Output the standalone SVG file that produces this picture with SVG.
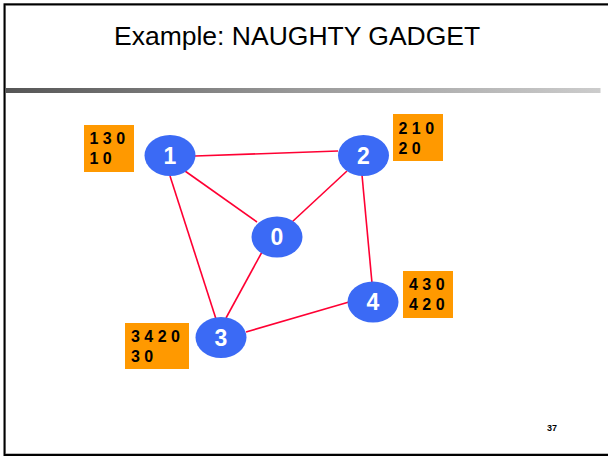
<svg xmlns="http://www.w3.org/2000/svg" width="608" height="457" viewBox="0 0 608 457">
  <defs>
    <linearGradient id="rule" x1="0" y1="0" x2="1" y2="0">
      <stop offset="0" stop-color="#555555"/>
      <stop offset="0.5" stop-color="#9a9a9a"/>
      <stop offset="1" stop-color="#cccccc"/>
    </linearGradient>
    <style>
      .title { font-family: "Liberation Sans", Arial, sans-serif; font-size: 26.5px; fill: #000; }
      .node ellipse { fill: #3b6af5; }
      .node text { font-family: "Liberation Sans", Arial, sans-serif; font-size: 23px; font-weight: bold; fill: #ffffff; text-anchor: middle; }
      .tag rect { fill: #ff9900; }
      .tag text { font-family: "Liberation Sans", Arial, sans-serif; font-size: 16px; font-weight: bold; fill: #000; }
      .edges line { stroke: #ff0033; stroke-width: 1.6; }
      .pageno { font-family: "Liberation Sans", Arial, sans-serif; font-size: 9px; font-weight: bold; fill: #000; }
    </style>
  </defs>

  <!-- slide background and frame -->
  <rect x="0" y="0" width="608" height="457" fill="#ffffff"/>
  <rect x="5.5" y="5.5" width="640" height="448" fill="none" stroke="#bdbdbd" stroke-width="1"/>
  <rect x="4.5" y="4.3" width="640" height="450.7" fill="none" stroke="#000" stroke-width="2"/>

  <!-- title -->
  <text class="title" x="114" y="45">Example: NAUGHTY GADGET</text>
  <rect x="5.5" y="88" width="595" height="5" fill="url(#rule)"/>

  <!-- connectors -->
  <g id="edges" class="edges">
    <line x1="195" y1="156" x2="338" y2="151"/>
    <line x1="185" y1="171" x2="257" y2="222"/>
    <line x1="347" y1="171" x2="292" y2="222"/>
    <line x1="362" y1="175" x2="372" y2="283"/>
    <line x1="262" y1="252" x2="226" y2="318"/>
    <line x1="170" y1="176" x2="216" y2="319"/>
    <line x1="246" y1="332" x2="349" y2="302"/>
  </g>

  <!-- nodes -->
  <g id="node-0" class="node">
    <ellipse cx="277" cy="237" rx="25.5" ry="20.5"/>
    <text x="277" y="245">0</text>
  </g>
  <g id="node-1" class="node">
    <ellipse cx="170" cy="155.5" rx="25.5" ry="20.5"/>
    <text x="170" y="164">1</text>
  </g>
  <g id="node-2" class="node">
    <ellipse cx="363.5" cy="155.5" rx="25.5" ry="20.5"/>
    <text x="363.5" y="164">2</text>
  </g>
  <g id="node-3" class="node">
    <ellipse cx="221" cy="337.5" rx="25.5" ry="20.5"/>
    <text x="221" y="346">3</text>
  </g>
  <g id="node-4" class="node">
    <ellipse cx="373" cy="302" rx="25.5" ry="20.5"/>
    <text x="373" y="310">4</text>
  </g>

  <!-- routing tables beside the nodes -->
  <g id="table-1" class="tag">
    <rect x="84" y="125" width="50" height="47"/>
    <text x="89.5" y="144">1 3 0</text>
    <text x="89.5" y="164">1 0</text>
  </g>
  <g id="table-2" class="tag">
    <rect x="393" y="114" width="50" height="47"/>
    <text x="398.5" y="134">2 1 0</text>
    <text x="398.5" y="154">2 0</text>
  </g>
  <g id="table-3" class="tag">
    <rect x="125" y="323" width="64" height="46"/>
    <text x="131" y="342">3 4 2 0</text>
    <text x="131" y="362">3 0</text>
  </g>
  <g id="table-4" class="tag">
    <rect x="403" y="271" width="50" height="47"/>
    <text x="409" y="290">4 3 0</text>
    <text x="409" y="310">4 2 0</text>
  </g>

  <!-- page number -->
  <text class="pageno" x="547" y="431">37</text>
</svg>
